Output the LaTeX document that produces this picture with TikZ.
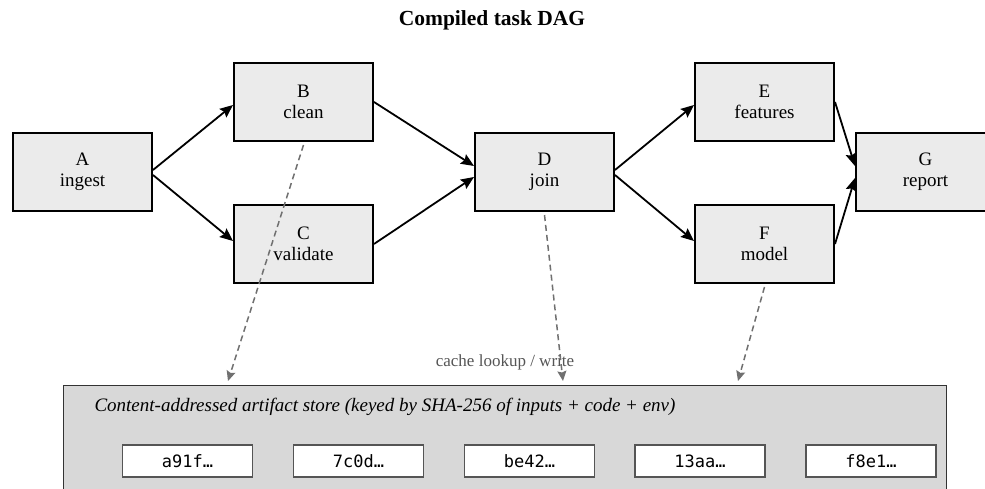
\documentclass[tikz,border=0pt]{standalone}
\usepackage{fontspec}
\setmainfont{Liberation Serif}
\newfontfamily\hashfont{DejaVu Sans Mono}
\usetikzlibrary{arrows.meta}
\definecolor{nodefill}{HTML}{EBEBEB}
\definecolor{storefill}{HTML}{D8D8D8}
\definecolor{storeline}{HTML}{333333}
\definecolor{hashline}{HTML}{555555}
\definecolor{dashcol}{HTML}{707070}
\definecolor{labelcol}{HTML}{555555}
\begin{document}
\begin{tikzpicture}[x=1pt,y=-1pt,
  task/.style={draw=black, line width=2pt, fill=nodefill, minimum width=139pt, minimum height=78pt,
    align=center, inner sep=0pt, font=\fontsize{19}{21}\selectfont},
  hashbox/.style={draw=hashline, line width=1.4pt, fill=white, minimum width=130pt, minimum height=32pt,
    inner sep=0pt, font=\hashfont\fontsize{17}{18}\selectfont},
  flow/.style={-{Stealth[length=13pt,width=11pt,inset=2pt]}, line width=1.8pt, black},
  cachelink/.style={-{Stealth[length=10pt,width=9pt,inset=1.5pt]}, line width=1.5pt, dashcol, dash pattern=on 6pt off 4pt}
]
\useasboundingbox (0,0) rectangle (985,489);
\node[font=\bfseries\fontsize{21.5}{24}\selectfont] (title) at (492,20) {Compiled task DAG};
\node[task] (A) at (82.5,172) {A\\ingest};
\node[task] (B) at (303.5,102) {B\\clean};
\node[task] (C) at (303.5,244) {C\\validate};
\node[task] (D) at (544.5,172) {D\\join};
\node[task] (E) at (764.5,102) {E\\features};
\node[task] (F) at (764.5,244) {F\\model};
\node[task] (G) at (925.5,172) {G\\report};
\draw[flow] ([yshift=2pt]A.east) -- ([yshift=-3pt]B.west);
\draw[flow] ([yshift=-3pt]A.east) -- ([yshift=3pt]C.west);
\draw[flow] (B.east) -- ([yshift=6pt]D.west);
\draw[flow] (C.east) -- ([yshift=-5pt]D.west);
\draw[flow] ([yshift=2pt]D.east) -- ([yshift=-3pt]E.west);
\draw[flow] ([yshift=-3pt]D.east) -- ([yshift=3pt]F.west);
\draw[flow] (E.east) -- ([yshift=6pt]G.west);
\draw[flow] (F.east) -- ([yshift=-6pt]G.west);
% store
\node[draw=storeline, line width=1.4pt, fill=storefill, minimum width=883pt, minimum height=130pt,
  anchor=north west, inner sep=0pt] (store) at (63,385) {};
\node[anchor=west, font=\itshape\fontsize{19}{21}\selectfont] (storelabel) at (91,407)
  {Content-addressed artifact store (keyed by SHA-256 of inputs + code + env)};
\node[hashbox] (h1) at (187.5,461) {a91f…};
\node[hashbox] (h2) at (358.5,461) {7c0d…};
\node[hashbox] (h3) at (529.5,461) {be42…};
\node[hashbox] (h4) at (700,461) {13aa…};
\node[hashbox] (h5) at (871,461) {f8e1…};
\node[text=labelcol, font=\fontsize{17}{19}\selectfont] (cachelabel) at (505,362) {cache lookup / write};
\coordinate (s1) at (228,381);
\coordinate (s2) at (563,381);
\coordinate (s3) at (738,381);
\draw[cachelink] ([yshift=-3pt]B.south) -- (s1);
\draw[cachelink] ([yshift=-3pt]D.south) -- (s2);
\draw[cachelink] ([yshift=-3pt]F.south) -- (s3);
\end{tikzpicture}
\end{document}
